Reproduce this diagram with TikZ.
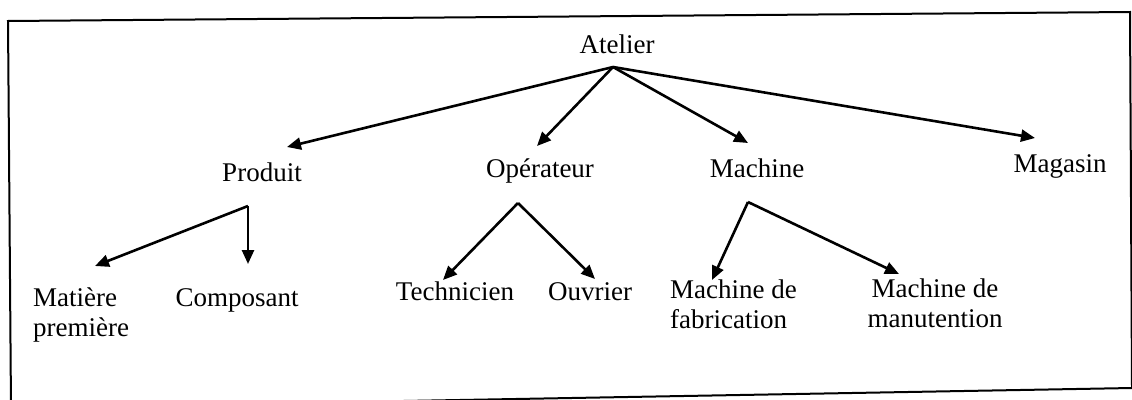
\documentclass[tikz,border=0pt]{standalone}
\usepackage{fontspec}
\setmainfont{Liberation Serif}
\usetikzlibrary{arrows.meta}
\tikzset{
  lbl/.style={inner sep=0pt, anchor=base, font=\fontsize{27}{30}\selectfont},
  lblw/.style={inner sep=0pt, anchor=base west, font=\fontsize{27}{30}\selectfont},
  conn/.style={line width=2.6pt, -{Triangle[length=14pt,width=12pt]}},
  frame/.style={line width=2pt}
}
\begin{document}
\begin{tikzpicture}[x=1pt,y=-1pt]
\useasboundingbox (0,0) rectangle (1132,399);
% frame (slightly tilted, bottom-left cropped)
\draw[frame] (8,21) -- (1130,12) -- (1132,388) -- (11,408) -- cycle;
% nodes
\node[lbl] (atelier) at (617,53) {Atelier};
\node[lbl] (produit) at (262,181) {Produit};
\node[lbl] (operateur) at (540,177) {Opérateur};
\node[lbl] (machine) at (757,177) {Machine};
\node[lbl] (magasin) at (1060,172) {Magasin};
\node[lblw] (matiere) at (33,306) {\begin{tabular}[t]{@{}l@{}}Matière\\première\end{tabular}};
\node[lbl] (composant) at (237,306) {Composant};
\node[lbl] (technicien) at (455,300) {Technicien};
\node[lbl] (ouvrier) at (590,300) {Ouvrier};
\node[lblw] (fabrication) at (670,298) {\begin{tabular}[t]{@{}l@{}}Machine de\\fabrication\end{tabular}};
\node[lbl] (manutention) at (935,297) {\begin{tabular}[t]{@{}c@{}}Machine de\\manutention\end{tabular}};
% branch points
\coordinate (a0) at (613,67);
\coordinate (p0) at (248,206);
\coordinate (o0) at (518,203);
\coordinate (m0) at (748,202);
% arrow tips
\coordinate (tprod) at (287,147);
\coordinate (toper) at (537,146);
\coordinate (tmach) at (748,143);
\coordinate (tmag) at (1035,138);
\coordinate (tmat) at (95,266);
\coordinate (tcomp) at (248,264);
\coordinate (ttech) at (443,280);
\coordinate (touv) at (595,279);
\coordinate (tfab) at (712,280);
\coordinate (tman) at (899,274);
% connectors
\draw[conn] (a0) -- (tprod);
\draw[conn] (a0) -- (toper);
\draw[conn] (a0) -- (tmach);
\draw[conn] (a0) -- (tmag);
\draw[conn] (p0) -- (tmat);
\draw[conn] (p0) -- (tcomp);
\draw[conn] (o0) -- (ttech);
\draw[conn] (o0) -- (touv);
\draw[conn] (m0) -- (tfab);
\draw[conn] (m0) -- (tman);
\end{tikzpicture}
\end{document}
